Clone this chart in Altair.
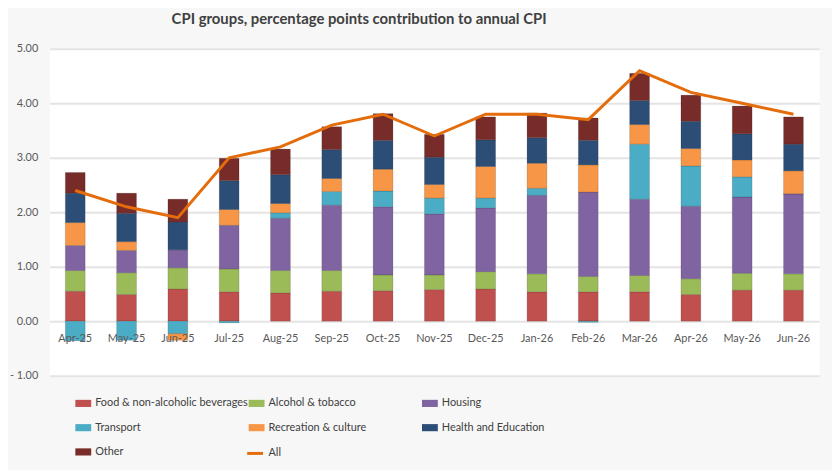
import altair as alt
import pandas as pd

months = ["Apr-25", "May-25", "Jun-25", "Jul-25", "Aug-25", "Sep-25", "Oct-25", "Nov-25",
          "Dec-25", "Jan-26", "Feb-26", "Mar-26", "Apr-26", "May-26", "Jun-26"]

groups = ["Food & non-alcoholic beverages", "Alcohol & tobacco", "Housing", "Transport",
          "Recreation & culture", "Health and Education", "Other"]
colors = ["#c0504d", "#9bbb59", "#8064a2", "#4bacc6", "#f79646", "#2c4d75", "#772c2a"]

food      = [0.55, 0.49, 0.59, 0.54, 0.52, 0.55, 0.56, 0.58, 0.59, 0.54, 0.54, 0.54, 0.49, 0.57, 0.57]
alcohol   = [0.38, 0.40, 0.39, 0.42, 0.41, 0.38, 0.29, 0.27, 0.32, 0.33, 0.28, 0.30, 0.29, 0.31, 0.30]
housing   = [0.46, 0.41, 0.33, 0.80, 0.96, 1.20, 1.25, 1.12, 1.17, 1.44, 1.55, 1.40, 1.33, 1.40, 1.47]
transport = [-0.36, -0.35, -0.23, -0.03, 0.10, 0.25, 0.29, 0.29, 0.18, 0.13, -0.02, 1.01, 0.74, 0.37, 0.00]
recreation = [0.42, 0.16, -0.12, 0.29, 0.17, 0.24, 0.40, 0.25, 0.58, 0.46, 0.50, 0.36, 0.32, 0.31, 0.42]
health    = [0.54, 0.52, 0.51, 0.53, 0.53, 0.53, 0.53, 0.50, 0.49, 0.47, 0.45, 0.44, 0.50, 0.48, 0.49]
other     = [0.38, 0.37, 0.42, 0.41, 0.47, 0.42, 0.49, 0.42, 0.42, 0.45, 0.41, 0.50, 0.48, 0.51, 0.50]

all_cpi = [2.4, 2.1, 1.9, 3.0, 3.2, 3.6, 3.8, 3.4, 3.8, 3.8, 3.7, 4.6, 4.2, 4.0, 3.8]

series = [food, alcohol, housing, transport, recreation, health, other]

rows = []
for gi, (g, vals) in enumerate(zip(groups, series)):
    for m, v in zip(months, vals):
        rows.append({"month": m, "group": g, "value": v, "order": gi})
bars_df = pd.DataFrame(rows)
line_df = pd.DataFrame({"month": months, "value": all_cpi, "series": ["All"] * len(months)})

FONT = "Lato"
TXT = "#595959"

x_enc = alt.X(
    "month:N", sort=months,
    scale=alt.Scale(paddingInner=0, paddingOuter=0),
    axis=alt.Axis(title=None, labelAngle=0, domain=False, ticks=False, grid=False,
                  offset=-55, labelPadding=11, zindex=1, labelFont=FONT,
                  labelFontSize=11, labelColor=TXT),
)

y_axis = alt.Axis(
    title=None, values=[-1, 0, 1, 2, 3, 4, 5], domain=False, ticks=False,
    labelPadding=12, labelFont=FONT, labelFontSize=11, labelColor=TXT,
    gridColor="#e4e4e4", gridWidth=2,
    labelExpr="datum.value < 0 ? '- ' + format(-datum.value, '.2f') : format(datum.value, '.2f')",
)

bars = alt.Chart(bars_df).mark_bar(size=20, stroke="black", strokeOpacity=0.18, strokeWidth=0.8).encode(
    x=x_enc,
    y=alt.Y("value:Q", stack="zero", scale=alt.Scale(domain=[-1, 5], nice=False), axis=y_axis),
    color=alt.Color(
        "group:N",
        scale=alt.Scale(domain=groups, range=colors),
        legend=alt.Legend(
            title=None, orient="none", legendX=26, legendY=350, columns=3,
            direction="horizontal",
            gridAlign="all", columnPadding=0, rowPadding=11.5,
            symbolType="M-1,-0.45H1V0.45H-1Z", symbolSize=256, symbolStrokeWidth=0,
            labelFont=FONT, labelFontSize=11, labelColor="#404040", labelOffset=4,
            labelLimit=300,
        ),
    ),
    order=alt.Order("order:Q"),
)

line = alt.Chart(line_df).mark_line(strokeWidth=3).encode(
    x=alt.X("month:N", sort=months),
    y=alt.Y("value:Q"),
    stroke=alt.Stroke(
        "series:N",
        scale=alt.Scale(domain=["All"], range=["#e46c0a"]),
        legend=alt.Legend(
            title=None, orient="none", legendX=198, legendY=399,
            symbolType="stroke", symbolSize=256, symbolStrokeWidth=3,
            labelFont=FONT, labelFontSize=11, labelColor="#404040", labelOffset=4,
        ),
    ),
)

chart = alt.layer(bars, line).properties(
    width=777, height=330,
    padding={"left": 42, "top": 39, "right": 13, "bottom": 93},
    autosize=alt.AutoSizeParams(type="none"),
    background="#f7f7f7",
    title=alt.Title(
        "CPI groups, percentage points contribution to annual CPI",
        font=FONT, fontSize=15, fontWeight="bold", color="#404040",
        anchor="middle", dx=-76, offset=16,
    ),
).configure_view(fill="white", stroke="transparent")

chart.save("out.html", embed_options={"renderer": "svg", "actions": False})
